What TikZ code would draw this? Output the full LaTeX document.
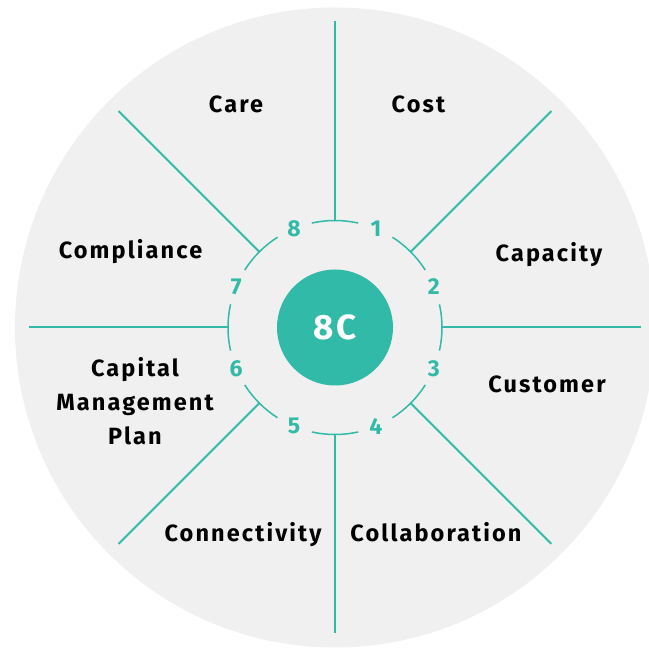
\documentclass[tikz,border=0pt]{standalone}
\usepackage{fontspec}
\setmainfont{Fira Sans}[LetterSpace=9]
\definecolor{teal8c}{HTML}{32BAA8}
\definecolor{disc}{HTML}{F0F0F0}
\tikzset{
  lbl/.style={font=\fontsize{23.5}{34}\selectfont\bfseries, text=black, align=center},
  num/.style={font=\fontsize{23}{26}\selectfont\bfseries, text=teal8c},
  spoke/.style={teal8c, line width=2pt},
  ring/.style={teal8c, line width=1.5pt},
}
\begin{document}
\begin{tikzpicture}[x=1pt,y=1pt]
  \useasboundingbox (-335,-320.5) rectangle (314,327.5);
  \fill[disc] (0,0) circle (320);
  % spokes and ring pieces
  \foreach \a in {0,45,...,315} {
    \draw[spoke] (\a:107) -- (\a:306);
    \draw[ring] (\a-12.5:107) arc[start angle=\a-12.5, end angle=\a+12.5, radius=107];
  }
  \foreach \n in {1,...,8}
    \node[num] (n\n) at ({112.5-45*\n}:107) {\n};
  \node[circle, fill=teal8c, minimum size=116pt, inner sep=0pt, text=white,
        font=\fontsize{35}{38}\selectfont\bfseries] (core) at (0,0) {8C};
  % the eight C's
  \node[lbl, anchor=base] (care) at (-99,214.5) {Care};
  \node[lbl, anchor=base] (cost) at (83.5,214.5) {Cost};
  \node[lbl, anchor=base] (capacity) at (214,65.5) {Capacity};
  \node[lbl, anchor=base] (compliance) at (-204.5,68.5) {Compliance};
  \node[lbl, anchor=base] (customer) at (212,-65.5) {Customer};
  \node[lbl, anchor=base] (collab) at (101,-214) {Collaboration};
  \node[lbl, anchor=base] (connect) at (-92,-214.5) {Connectivity};
  \node[lbl] (capital) at (-200,-74) {Capital\\Management\\Plan};
\end{tikzpicture}
\end{document}
